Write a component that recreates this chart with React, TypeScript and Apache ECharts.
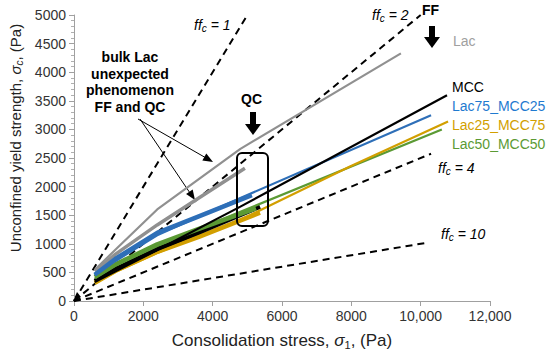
import React, { useEffect, useRef } from 'react';
import * as echarts from 'echarts';

// ---- Data (σ1, σc) in Pa ----
const ffc1 = [[0, 0], [5000, 5000]];
const ffc2 = [[0, 0], [10000, 5000]];
const ffc4 = [[0, 0], [10300, 2575]];
const ffc10 = [[0, 0], [10200, 1020]];

// bulk (QC) thick lines
const lacBulk = [[600, 520], [1200, 820], [2400, 1330], [3600, 1800], [4930, 2320]];
const lac75Bulk = [[600, 460], [1200, 740], [2400, 1190], [3600, 1480], [5130, 1850]];
const lac50Bulk = [[600, 420], [1200, 640], [2400, 990], [3600, 1260], [5250, 1620]];
const mccBulk = [[600, 350], [1200, 560], [2400, 910], [3600, 1200], [5365, 1650]];
const lac25Bulk = [[600, 320], [1200, 530], [2400, 860], [3600, 1120], [5365, 1544]];

// FF thin lines
const lacFF = [[600, 545], [1200, 900], [2400, 1600], [4800, 2660], [9430, 4330]];
const mccFF = [[600, 330], [1200, 520], [2400, 890], [4800, 1650], [10760, 3596]];
const lac75FF = [[600, 450], [1200, 700], [2400, 1150], [4800, 1800], [10300, 3246]];
const lac25FF = [[600, 310], [1200, 510], [2400, 840], [4800, 1420], [7960, 2350], [10790, 3140]];
const lac50FF = [[600, 400], [1200, 620], [2400, 960], [4800, 1560], [10610, 3000]];

const seriesNames = ['Lac', 'MCC', 'Lac75_MCC25', 'Lac25_MCC75', 'Lac50_MCC50'];

const GRAY = '#909090';
const BLUE = '#2e6fb8';
const BLUE_T = '#1f7ad0';
const GOLD = '#d29f00';
const GREEN = '#5b9a34';
const FONT = 'Liberation Sans, Arial, sans-serif';

function arrowHead(x1: number, y1: number, x2: number, y2: number, len = 10, half = 4) {
  const dx = x2 - x1, dy = y2 - y1;
  const d = Math.sqrt(dx * dx + dy * dy);
  const ux = dx / d, uy = dy / d;
  const bx = x2 - ux * len, by = y2 - uy * len;
  return [[x2, y2], [bx - uy * half, by + ux * half], [bx + uy * half, by - ux * half]];
}

export default function App() {
  const ref = useRef<HTMLDivElement>(null);
  useEffect(() => {
    if (!ref.current) return;
    document.body.style.margin = '0';
    const chart = echarts.init(ref.current, null, { renderer: 'svg' });

    const dashed = (data: number[][]) => ({
      type: 'line', data, showSymbol: false, silent: true,
      lineStyle: { color: '#000', width: 2, type: [7, 5] }, z: 1,
    });
    const solid = (data: number[][], color: string, width: number, z = 2) => ({
      type: 'line', data, showSymbol: false, silent: true,
      lineStyle: { color, width, cap: 'butt' }, z,
    });

    const ffRich = {
      i: { fontStyle: 'italic', fontSize: 14, fontFamily: FONT, color: '#000', lineHeight: 17 },
      s: { fontStyle: 'italic', fontSize: 10, fontFamily: FONT, color: '#000', lineHeight: 10, verticalAlign: 'bottom' },
    };
    const ffText = (x: number, y: number, n: string) => ({
      type: 'text', x, y,
      style: { text: `{i|ff}{s|c}{i| = ${n}}`, rich: ffRich, fill: '#000' },
    });

    const a1 = [138, 119, 213, 162];
    const a2 = [140, 119, 195, 200];

    const option: any = {
      animation: false,
      grid: { left: 74, right: 60, top: 15, bottom: 55, outerBoundsMode: 'none', containLabel: false },
      xAxis: {
        type: 'value', min: 0, max: 12000, interval: 2000,
        axisLine: { show: true, lineStyle: { color: '#a0a0a0', width: 1 } },
        axisTick: { show: true, length: 5, lineStyle: { color: '#a0a0a0' } },
        splitLine: { show: false },
        axisLabel: {
          color: '#333', fontSize: 14, fontFamily: FONT, margin: 8,
          formatter: (v: number) => (v >= 10000 ? v.toLocaleString('en-US') : String(v)),
        },
        name: '{t|Consolidation stress, }{g|σ}{s|1}{t|, (Pa)}',
        nameLocation: 'middle', nameGap: 29,
        nameTextStyle: {
          rich: {
            t: { fontSize: 17, fontFamily: FONT, color: '#222', lineHeight: 20 },
            g: { fontSize: 17, fontFamily: FONT, color: '#222', fontStyle: 'italic', lineHeight: 20 },
            s: { fontSize: 11, fontFamily: FONT, color: '#222', lineHeight: 11, verticalAlign: 'bottom' },
          },
        },
      },
      yAxis: {
        type: 'value', min: 0, max: 5000, interval: 500,
        axisLine: { show: true, lineStyle: { color: '#a0a0a0', width: 1 } },
        axisTick: { show: true, length: 5, lineStyle: { color: '#a0a0a0' } },
        minorTick: { show: true, splitNumber: 5, length: 3, lineStyle: { color: '#b0b0b0' } },
        splitLine: { show: false },
        axisLabel: { color: '#333', fontSize: 14, fontFamily: FONT, margin: 8, formatter: (v: number) => String(v) },
      },
      series: [
        dashed(ffc1), dashed(ffc2), dashed(ffc4), dashed(ffc10),
        solid(lacBulk, GRAY, 3.5),
        solid(lac25Bulk, GOLD, 4.5),
        solid(mccBulk, '#000', 4.5),
        solid(lac50Bulk, GREEN, 4.5),
        solid(lac75Bulk, BLUE, 4.5),
        { ...solid(lacFF, GRAY, 2.2, 3), name: seriesNames[0] },
        { ...solid(lac50FF, GREEN, 2.2, 3), name: seriesNames[4] },
        { ...solid(lac25FF, GOLD, 2.2, 3), name: seriesNames[3] },
        { ...solid(lac75FF, BLUE, 2.2, 3), name: seriesNames[2] },
        { ...solid(mccFF, '#000', 2.2, 3), name: seriesNames[1] },
      ],
      graphic: [
        {
          type: 'text', x: 15, y: 138, rotation: Math.PI / 2,
          style: {
            text: '{t|Unconfined yield strength, }{g|σ}{s|c}{t|, (Pa)}',
            align: 'center', verticalAlign: 'middle',
            rich: {
              t: { fontSize: 15, fontFamily: FONT, fill: '#222', lineHeight: 18 },
              g: { fontSize: 15, fontFamily: FONT, fill: '#222', fontStyle: 'italic', lineHeight: 18 },
              s: { fontSize: 10, fontFamily: FONT, fill: '#222', lineHeight: 10, verticalAlign: 'bottom', fontStyle: 'italic' },
            },
          },
        },
        ffText(194, 16, '1'),
        ffText(372, 6, '2'),
        ffText(438, 159, '4'),
        ffText(441, 225, '10'),
        { type: 'text', x: 422, y: 3, style: { text: 'FF', font: `bold 14px ${FONT}`, fill: '#000' } },
        { type: 'rect', shape: { x: 429, y: 26, width: 6, height: 12 }, style: { fill: '#000' } },
        { type: 'polygon', shape: { points: [[424, 37], [440, 37], [432, 48]] }, style: { fill: '#000' } },
        { type: 'text', x: 241, y: 92, style: { text: 'QC', font: `bold 14px ${FONT}`, fill: '#000' } },
        { type: 'rect', shape: { x: 250, y: 112, width: 6, height: 13 }, style: { fill: '#000' } },
        { type: 'polygon', shape: { points: [[245, 124], [261, 124], [253, 135]] }, style: { fill: '#000' } },
        { type: 'text', x: 453, y: 34, style: { text: seriesNames[0], font: `14px ${FONT}`, fill: '#a0a0a0' } },
        { type: 'text', x: 452, y: 80, style: { text: seriesNames[1], font: `14px ${FONT}`, fill: '#000' } },
        { type: 'text', x: 452, y: 99, style: { text: seriesNames[2], font: `14px ${FONT}`, fill: BLUE_T } },
        { type: 'text', x: 452, y: 118, style: { text: seriesNames[3], font: `14px ${FONT}`, fill: GOLD } },
        { type: 'text', x: 452, y: 137, style: { text: seriesNames[4], font: `14px ${FONT}`, fill: GREEN } },
        {
          type: 'text', x: 130, y: 49,
          style: {
            text: 'bulk Lac\nunexpected\nphenomenon\nFF and QC', font: `bold 14px ${FONT}`,
            fill: '#000', align: 'center', lineHeight: 16.5,
          },
        },
        { type: 'line', shape: { x1: a1[0], y1: a1[1], x2: a1[2] - 6, y2: a1[3] - 3.5 }, style: { stroke: '#000', lineWidth: 1 } },
        { type: 'polygon', shape: { points: arrowHead(a1[0], a1[1], a1[2], a1[3], 10, 4) }, style: { fill: '#000' } },
        { type: 'line', shape: { x1: a2[0], y1: a2[1], x2: a2[2] - 5, y2: a2[3] - 7 }, style: { stroke: '#000', lineWidth: 1 } },
        { type: 'polygon', shape: { points: arrowHead(a2[0], a2[1], a2[2], a2[3], 10, 4) }, style: { fill: '#000' } },
        {
          type: 'rect', shape: { x: 237, y: 153, width: 31, height: 73, r: 5 },
          style: { fill: 'none', stroke: '#000', lineWidth: 2 }, z: 10,
        },
        { type: 'polygon', shape: { points: [[73, 301], [81, 297], [77, 292]] }, style: { fill: '#000' } },
      ],
    };
    chart.setOption(option);
    return () => chart.dispose();
  }, []);
  return <div ref={ref} style={{ width: 550, height: 356 }} />;
}
